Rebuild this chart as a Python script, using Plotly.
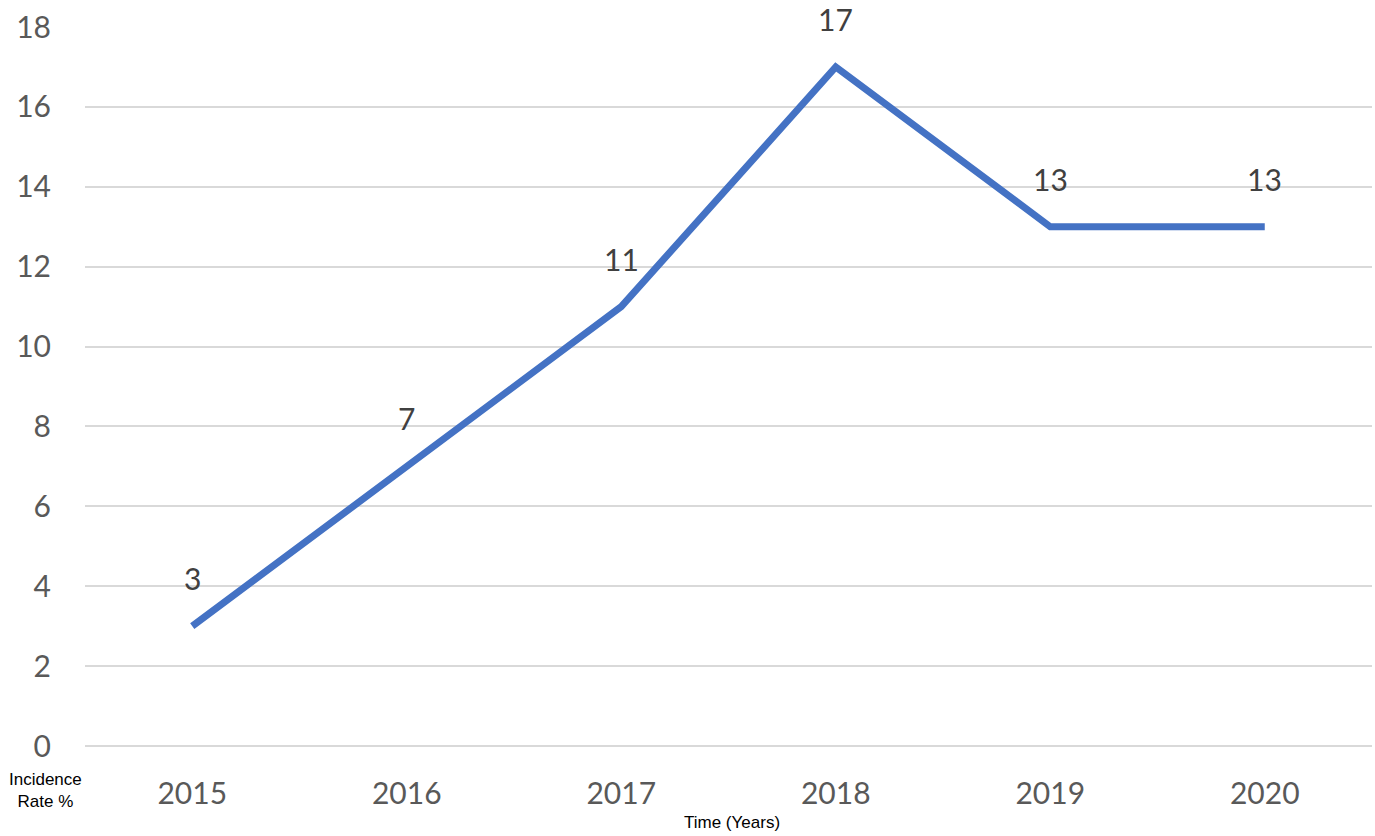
import plotly.graph_objects as go

years = ["2015", "2016", "2017", "2018", "2019", "2020"]
rates = [3, 7, 11, 17, 13, 13]
y_ticks = [0, 2, 4, 6, 8, 10, 12, 14, 16, 18]

fig = go.Figure()
fig.add_trace(go.Scatter(
    x=years, y=rates, mode="lines",
    line=dict(color="#4472C4", width=7),
    hoverinfo="skip", showlegend=False,
))

for i, v in enumerate(rates):
    fig.add_annotation(x=i, y=v, xref="x", yref="y", text=str(v),
                       showarrow=False, yshift=48,
                       font=dict(family="Lato", size=30, color="#404040"))

fig.add_annotation(text="Incidence<br>Rate %", xref="paper", yref="paper",
                   x=-0.031, y=-0.03, xanchor="center", yanchor="top",
                   showarrow=False, align="center",
                   font=dict(family="Liberation Sans", size=17, color="#000000"))
fig.add_annotation(text="Time (Years)", xref="paper", yref="paper",
                   x=0.503, y=-0.09, xanchor="center", yanchor="top",
                   showarrow=False,
                   font=dict(family="Liberation Sans", size=17, color="#000000"))

fig.update_layout(
    width=1375, height=836,
    margin=dict(l=85, r=3, t=27, b=90),
    paper_bgcolor="white", plot_bgcolor="white",
    xaxis=dict(type="category", range=[-0.5, 5.5], showgrid=False,
               showline=False, zeroline=False, ticks="",
               ticklabelstandoff=27,
               tickfont=dict(family="Lato", size=30, color="#595959")),
    yaxis=dict(range=[0, 18.001], tickvals=y_ticks, showgrid=True,
               gridcolor="#D9D9D9", gridwidth=2, zeroline=True,
               zerolinecolor="#D9D9D9", zerolinewidth=2, showline=False,
               ticks="", ticklabelstandoff=33,
               tickfont=dict(family="Lato", size=30, color="#595959")),
)

fig.write_html("out.html", config={"displayModeBar": False},
               post_script="document.body.style.margin='0';document.body.style.overflow='hidden';")
